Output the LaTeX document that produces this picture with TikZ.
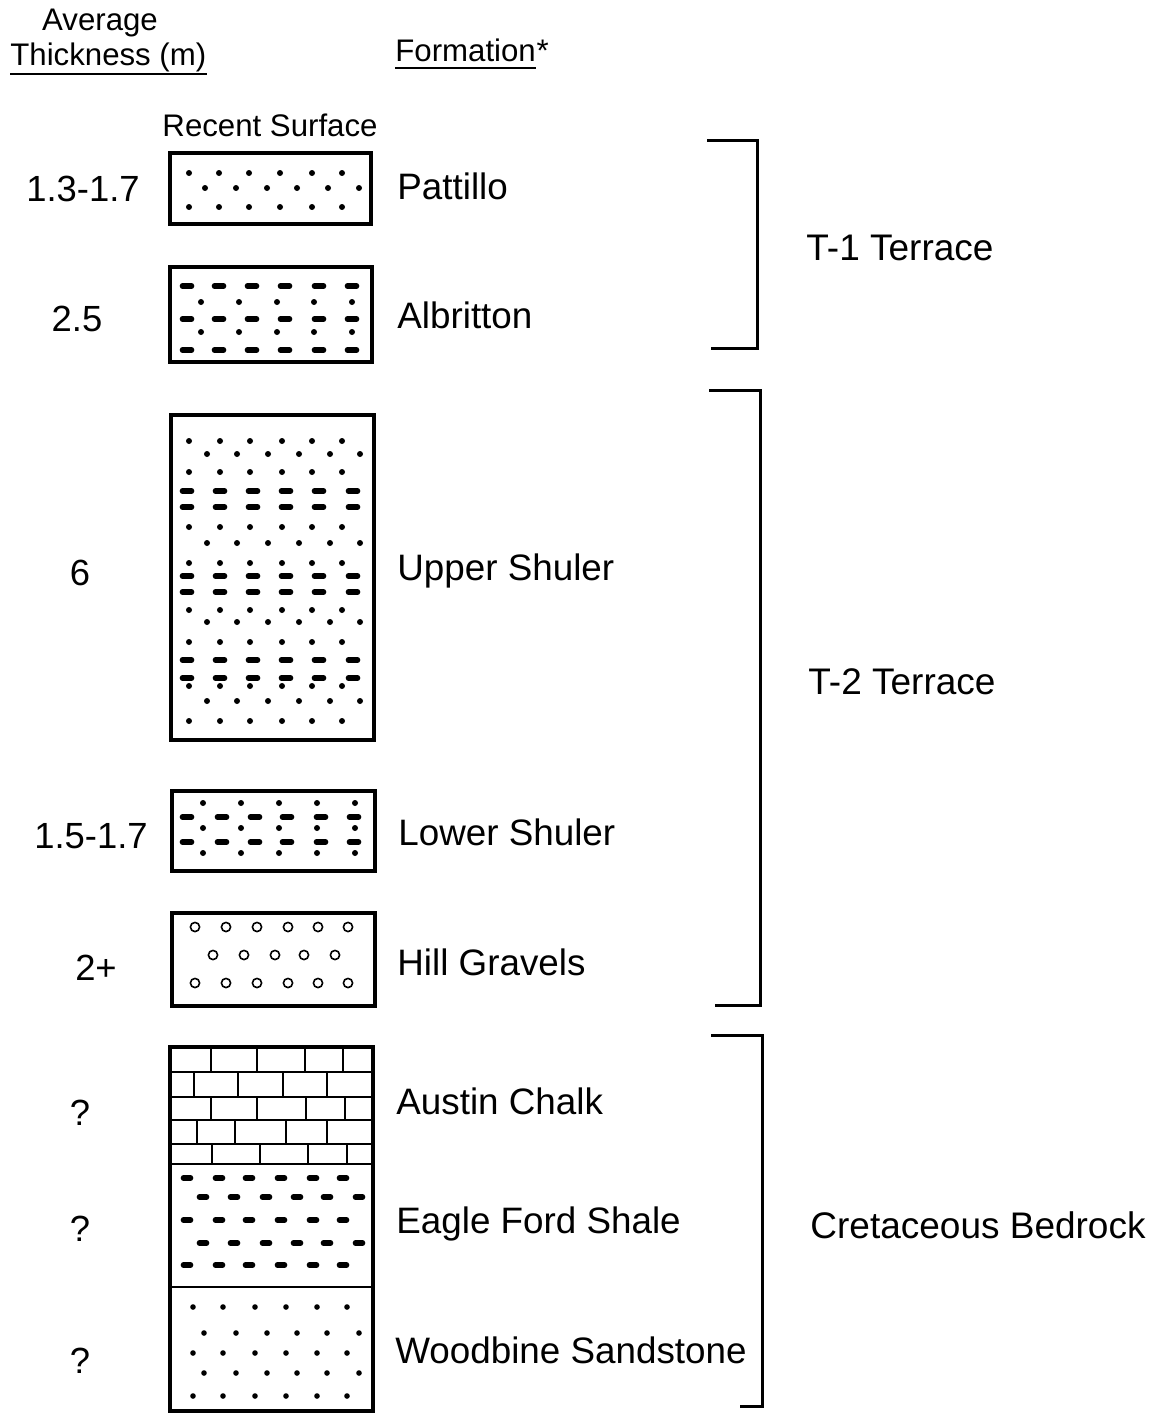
\documentclass[tikz,border=0pt]{standalone}
\usepackage{fontspec}
\setmainfont{Liberation Sans}
\tikzset{
	layerbox/.style={line width=1.9pt},
	chalkline/.style={line width=1pt},
	bracket/.style={line width=1.5pt},
	shalebit/.style={line width=2.8pt, line cap=round},
	grain/.style={line width=0.8pt},
	formname/.style={anchor=base west, inner sep=0pt, font=\fontsize{18.4}{21}\selectfont},
	depthlabel/.style={anchor=base, inner sep=0pt, font=\fontsize{18.2}{21}\selectfont},
	grouplabel/.style={anchor=base west, inner sep=0pt, font=\fontsize{18.5}{21}\selectfont},
	headlabel/.style={inner sep=0pt, font=\fontsize{15.6}{19}\selectfont}
}
\begin{document}
\begin{tikzpicture}[x=0.5pt,y=-0.5pt]
	\useasboundingbox (0,0) rectangle (1155,1413);
	% headings
	\node[headlabel, anchor=base] (avg) at (100,31) {Average};
	\node[headlabel, anchor=base west] (thk) at (10,66) {Thickness (m)};
	\draw[line width=1pt] ([yshift=-4pt]thk.base west) -- ([yshift=-4pt]thk.base east);
	\node[headlabel, anchor=base west] (form) at (395,62) {Formation};
	\node[headlabel, anchor=base west] (star) at (form.base east) {*};
	\draw[line width=1pt] ([yshift=-3pt]form.base west) -- ([yshift=-3pt]form.base east);
	\node[headlabel, anchor=base] (surf) at (270,137) {Recent Surface};
	% Pattillo
	\draw[layerbox] (170,153) rectangle (371,224);
	\foreach \y in {173,207}
	\foreach \x in {189,219,249,280,312,342}
	\fill (\x,\y) circle (3);
	\foreach \x in {205,236,267,297,328,359}
	\fill (\x,188) circle (3);
	% Albritton
	\draw[layerbox] (170,267) rectangle (372,362);
	\foreach \y in {286,319,350}
	\foreach \x in {187,219,252,285,319,352}
	\draw[shalebit] (\x-4.5,\y) -- (\x+4.5,\y);
	\foreach \y in {302,332}
	\foreach \x in {201,239,277,314,352}
	\fill (\x,\y) circle (3);
	% Upper Shuler
	\draw[layerbox] (171,415) rectangle (374,740);
	\foreach \y in {441,472,527,563,610,642,686,721}
	\foreach \x in {189,220,250,282,312,342}
	\fill (\x,\y) circle (3);
	\foreach \y in {454,543,622,701}
	\foreach \x in {207,237,268,299,330,360}
	\fill (\x,\y) circle (3);
	\foreach \y in {491,507,576,592,660,678}
	\foreach \x in {187,220,253,286,319,353}
	\draw[shalebit] (\x-4.5,\y) -- (\x+4.5,\y);
	% Lower Shuler
	\draw[layerbox] (172,791) rectangle (375,871);
	\foreach \y in {803,828,853}
	\foreach \x in {203,241,279,317,355}
	\fill (\x,\y) circle (3);
	\foreach \y in {817,842}
	\foreach \x in {187,222,255,287,321,354}
	\draw[shalebit] (\x-4.5,\y) -- (\x+4.5,\y);
	% Hill Gravels
	\draw[layerbox] (172,913) rectangle (375,1006);
	\foreach \y in {927,983}
	\foreach \x in {195,226,257,288,318,348}
	\draw[grain] (\x,\y) circle (4.6);
	\foreach \x in {213,244,275,304,335}
	\draw[grain] (\x,955) circle (4.6);
	% Austin Chalk
	\foreach \y in {1072,1097,1120,1144}
	\draw[chalkline] (170,\y) -- (373,\y);
	\foreach \x in {211,257,305,343}
	\draw[chalkline] (\x,1048) -- (\x,1072);
	\foreach \x in {194,238,283,327}
	\draw[chalkline] (\x,1072) -- (\x,1097);
	\foreach \x in {211,257,306,345}
	\draw[chalkline] (\x,1097) -- (\x,1120);
	\foreach \x in {197,235,286,327}
	\draw[chalkline] (\x,1120) -- (\x,1144);
	\foreach \x in {212,260,308,347}
	\draw[chalkline] (\x,1144) -- (\x,1164);
	\draw[chalkline] (170,1164) -- (373,1164);
	% Eagle Ford Shale
	\foreach \y in {1178,1220,1265}
	\foreach \x in {187,219,249,281,313,343}
	\draw[shalebit] (\x-3.5,\y) -- (\x+3.5,\y);
	\foreach \y in {1197,1243}
	\foreach \x in {203,234,266,297,327,359}
	\draw[shalebit] (\x-3.5,\y) -- (\x+3.5,\y);
	\draw[chalkline] (170,1287) -- (373,1287);
	% Woodbine Sandstone
	\foreach \y in {1307,1353,1396}
	\foreach \x in {193,223,255,286,317,347}
	\fill (\x,\y) circle (2.8);
	\foreach \y in {1333,1373}
	\foreach \x in {204,236,267,297,327,359}
	\fill (\x,\y) circle (2.8);
	\draw[layerbox] (170,1047) rectangle (373,1411);
	% thicknesses
	\node[depthlabel] (d1) at (83,201) {1.3-1.7};
	\node[depthlabel] (d2) at (77,331) {2.5};
	\node[depthlabel] (d3) at (80,585) {6};
	\node[depthlabel] (d4) at (91,848) {1.5-1.7};
	\node[depthlabel] (d5) at (96,980) {2+};
	\node[depthlabel] (d6) at (80,1125) {?};
	\node[depthlabel] (d7) at (80,1241) {?};
	\node[depthlabel] (d8) at (80,1373) {?};
	% formations
	\node[formname] (pat) at (397,199) {Pattillo};
	\node[formname] (alb) at (397,328) {Albritton};
	\node[formname] (ups) at (397,580) {Upper Shuler};
	\node[formname] (lws) at (398,845) {Lower Shuler};
	\node[formname] (hgr) at (397,975) {Hill Gravels};
	\node[formname] (aus) at (396,1114) {Austin Chalk};
	\node[formname] (efs) at (396,1233) {Eagle Ford Shale};
	\node[formname] (wdb) at (395,1363) {Woodbine Sandstone};
	% groups
	\draw[bracket] (707,141) -- (757,141) -- (757,348) -- (711,348);
	\draw[bracket] (709,390) -- (760,390) -- (760,1005) -- (715,1005);
	\draw[bracket] (711,1035) -- (762,1035) -- (762,1406) -- (740,1406);
	\node[grouplabel] (t1) at (806,260) {T-1 Terrace};
	\node[grouplabel] (t2) at (808,694) {T-2 Terrace};
	\node[grouplabel] (cb) at (810,1238) {Cretaceous Bedrock};
\end{tikzpicture}
\end{document}
